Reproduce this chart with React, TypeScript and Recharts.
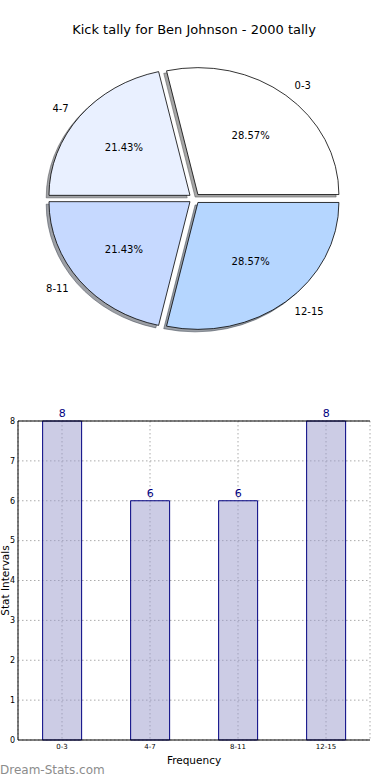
import {
  Bar,
  BarChart,
  CartesianGrid,
  Cell,
  Label,
  LabelList,
  Pie,
  PieChart,
  ReferenceLine,
  XAxis,
  YAxis,
} from 'recharts'

const categories = ['0-3', '4-7', '8-11', '12-15']
const tallies = [8, 6, 6, 8]
const yTicks = [0, 1, 2, 3, 4, 5, 6, 7, 8]

const wedgeFills = ['#ffffff', '#e9f0ff', '#c6d9ff', '#b5d6ff']
const FONT = '"DejaVu Sans", sans-serif'
const RAD = Math.PI / 180
// matplotlib axes were not square, so the pie comes out as an ellipse
const SQUASH = 0.9
const EXPLODE = 0.04

const rows = categories.map((name, i) => ({ name, value: tallies[i] }))

function shade(hex: string) {
  const n = parseInt(hex.slice(1), 16)
  const c = [(n >> 16) & 255, (n >> 8) & 255, n & 255].map((v) => Math.round(v * 0.3))
  return `rgb(${c.join(',')})`
}

function wedge(p: any, dx = 0, dy = 0) {
  const rx = p.outerRadius
  const ry = rx * SQUASH
  const mid = ((p.startAngle + p.endAngle) / 2) * RAD
  const ox = p.cx + dx + EXPLODE * rx * Math.cos(mid)
  const oy = p.cy + dy - EXPLODE * ry * Math.sin(mid)
  const a = p.startAngle * RAD
  const b = p.endAngle * RAD
  const large = Math.abs(p.endAngle - p.startAngle) > 180 ? 1 : 0
  return `M${ox},${oy}L${ox + rx * Math.cos(a)},${oy - ry * Math.sin(a)}A${rx},${ry} 0 ${large} 0 ${
    ox + rx * Math.cos(b)
  },${oy - ry * Math.sin(b)}Z`
}

function sliceLabels(p: any) {
  const rx = p.outerRadius
  const ry = rx * SQUASH
  const mAngle = p.midAngle ?? (p.startAngle + p.endAngle) / 2
  const cos = Math.cos(mAngle * RAD)
  const sin = Math.sin(mAngle * RAD)
  const out = EXPLODE + 1.1
  const inn = EXPLODE + 0.6
  return (
    <g key={`lbl-${p.index}`}>
      <text
        x={p.cx + out * rx * cos}
        y={p.cy - out * ry * sin}
        textAnchor={cos > 0 ? 'start' : 'end'}
        dominantBaseline="central"
        fontSize={10}
        fontFamily={FONT}
        fill="#000"
      >
        {categories[p.index]}
      </text>
      <text
        x={p.cx + inn * rx * cos}
        y={p.cy - inn * ry * sin}
        textAnchor="middle"
        dominantBaseline="central"
        fontSize={10}
        fontFamily={FONT}
        fill="#000"
      >
        {(p.percent * 100).toFixed(2)}%
      </text>
    </g>
  )
}

export default function App() {
  return (
    <div
      style={{
        position: 'fixed',
        left: 0,
        top: 0,
        width: 390,
        height: 780,
        background: '#fff',
        fontFamily: FONT,
      }}
    >
      <div style={{ position: 'absolute', left: 0, top: 0 }}>
        <PieChart width={390} height={360} margin={{ top: 0, right: 0, bottom: 0, left: 0 }}>
          <Pie
            data={rows}
            dataKey="value"
            cx={194.4}
            cy={198.5}
            outerRadius={141}
            startAngle={0}
            endAngle={360}
            isAnimationActive={false}
            shape={(p: any) => (
              <path d={wedge(p, -2.8, 2.5)} fill={p.fill} stroke={p.fill} fillOpacity={0.5} strokeOpacity={0.5} />
            )}
          >
            {rows.map((r, i) => (
              <Cell key={r.name} fill={shade(wedgeFills[i])} />
            ))}
          </Pie>
          <Pie
            data={rows}
            dataKey="value"
            cx={194.4}
            cy={198.5}
            outerRadius={141}
            startAngle={0}
            endAngle={360}
            isAnimationActive={false}
            labelLine={false}
            label={sliceLabels}
            shape={(p: any) => <path d={wedge(p)} fill={p.fill} stroke="#000" strokeWidth={0.8} />}
          >
            {rows.map((r, i) => (
              <Cell key={r.name} fill={wedgeFills[i]} />
            ))}
          </Pie>
        </PieChart>
      </div>

      <div style={{ position: 'absolute', left: 0, top: 400 }}>
        <BarChart
          width={390}
          height={380}
          data={rows}
          margin={{ top: 21, right: 20, bottom: 0, left: 0 }}
          barCategoryGap="28%"
        >
          <CartesianGrid stroke="#aaaaaa" strokeDasharray="1.5 2.5" />
          <XAxis
            dataKey="name"
            height={40}
            interval={0}
            tickLine={false}
            tickSize={0}
            tickMargin={4}
            axisLine={{ stroke: '#000' }}
            tick={{ fontSize: 7, fill: '#000', fontFamily: FONT }}
            label={
              <Label
                content={({ viewBox }: any) => (
                  <text
                    x={viewBox.x + viewBox.width / 2}
                    y={viewBox.y + 20}
                    textAnchor="middle"
                    dominantBaseline="central"
                    fontSize={10.5}
                    fontFamily={FONT}
                    fill="#000"
                  >
                    Frequency
                  </text>
                )}
              />
            }
          />
          <YAxis
            domain={[0, 8]}
            ticks={yTicks}
            width={18}
            tickLine={false}
            tickSize={0}
            tickMargin={3}
            axisLine={{ stroke: '#000' }}
            tick={{ fontSize: 8, fill: '#000', fontFamily: FONT }}
            label={
              <Label
                content={({ viewBox }: any) => {
                  const cy = viewBox.y + viewBox.height / 2
                  return (
                    <text
                      x={9}
                      y={cy}
                      transform={`rotate(-90 9 ${cy})`}
                      textAnchor="middle"
                      fontSize={10.5}
                      fontFamily={FONT}
                      fill="#000"
                    >
                      Stat Intervals
                    </text>
                  )
                }}
              />
            }
          />
          <YAxis
            yAxisId="frame"
            orientation="right"
            domain={[0, 8]}
            width={0}
            tick={false}
            tickLine={false}
            axisLine={{ stroke: '#000' }}
          />
          <ReferenceLine y={8} stroke="#000" />
          <Bar
            dataKey="value"
            fill="#9999cc"
            fillOpacity={0.5}
            stroke="#000080"
            strokeWidth={1}
            isAnimationActive={false}
          >
            <LabelList
              dataKey="value"
              position="top"
              offset={4}
              fill="#000080"
              fontSize={11}
              fontFamily={FONT}
            />
          </Bar>
        </BarChart>
      </div>

      <svg
        width={390}
        height={780}
        style={{ position: 'absolute', left: 0, top: 0, pointerEvents: 'none' }}
      >
        <text x={194} y={34} textAnchor="middle" fontSize={13} fontFamily={FONT} fill="#000">
          Kick tally for Ben Johnson - 2000 tally
        </text>
        <text x={0} y={774} fontSize={12} fontFamily={FONT} fill="#8c8c8c">
          Dream-Stats.com
        </text>
      </svg>
    </div>
  )
}
